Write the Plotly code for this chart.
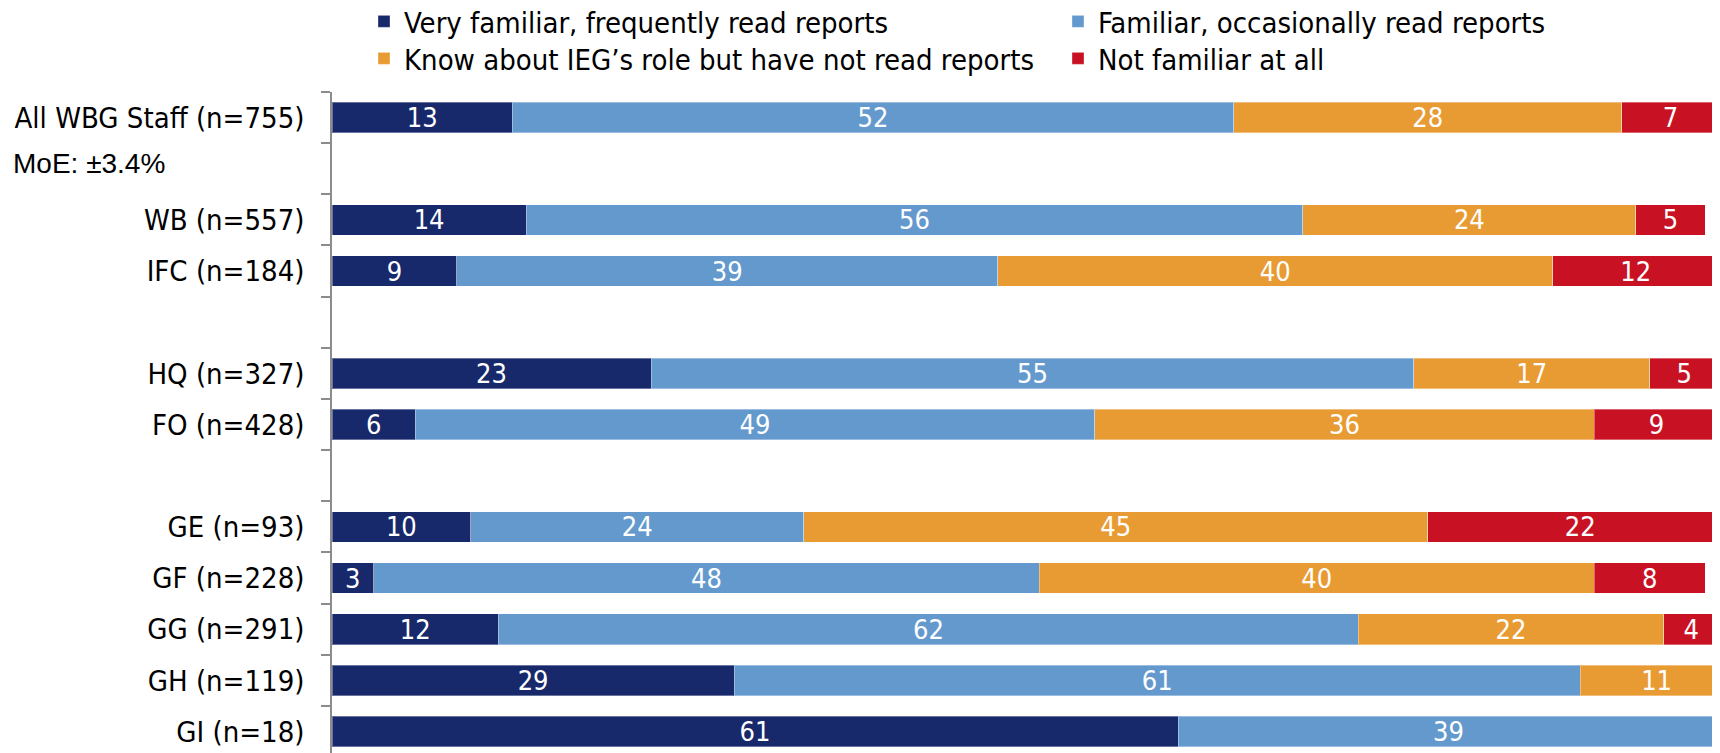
import plotly.graph_objects as go

categories = ["All WBG Staff (n=755)", " ", "WB (n=557)", "IFC (n=184)", "  ",
              "HQ (n=327)", "FO (n=428)", "   ", "GE (n=93)", "GF (n=228)",
              "GG (n=291)", "GH (n=119)", "GI (n=18)"]

series_names = ["Very familiar, frequently read reports",
                "Familiar, occasionally read reports",
                "Know about IEG\u2019s role but have not read reports",
                "Not familiar at all"]

very_familiar = [13, None, 14, 9, None, 23, 6, None, 10, 3, 12, 29, 61]
familiar = [52, None, 56, 39, None, 55, 49, None, 24, 48, 62, 61, 39]
know_about = [28, None, 24, 40, None, 17, 36, None, 45, 40, 22, 11, None]
not_familiar = [7, None, 5, 12, None, 5, 9, None, 22, 8, 4, None, None]

colors = ["#17296B", "#6499CE", "#E99B33", "#C81224"]
series_values = [very_familiar, familiar, know_about, not_familiar]

FONT = "DejaVu Sans Condensed, DejaVu Sans, sans-serif"

# page body adds an 8px offset; margins compensate
L, R, T, B = 324, 9, 84, 8
PW, PH = 1720 - L - R, 753 - T - B

# legend slot for each series: (legend id, left px, top px) in figure pixels
legend_ids = ["legend", "legend2", "legend3", "legend4"]
legend_left = [356, 1050, 356, 1050]
legend_top = [-12, -12, 25, 25]

fig = go.Figure()
for name, vals, col, lid in zip(series_names, series_values, colors, legend_ids):
    fig.add_trace(go.Bar(
        y=categories, x=vals, name=name, orientation="h", legend=lid,
        marker=dict(color=col, line=dict(color="rgba(255,255,255,0.35)", width=1)),
        text=[("" if v is None else str(v)) for v in vals],
        textposition="inside", insidetextanchor="middle", textangle=0,
        constraintext="none",
        textfont=dict(family=FONT, size=27, color="white"),
        hoverinfo="skip",
    ))

legends = {}
for lid, lx, ly in zip(legend_ids, legend_left, legend_top):
    legends[lid] = dict(orientation="h",
                        x=(lx - L) / PW, xanchor="left",
                        y=1 + (T - ly) / PH, yanchor="top",
                        font=dict(family=FONT, size=29, color="black"),
                        itemwidth=30, bgcolor="rgba(0,0,0,0)")

fig.update_layout(
    width=1720, height=753,
    barmode="stack", bargap=0.4,
    plot_bgcolor="white", paper_bgcolor="white",
    margin=dict(l=L, r=R, t=T, b=B, autoexpand=False),
    showlegend=True,
    xaxis=dict(range=[0, 100], visible=False, fixedrange=True, automargin=False),
    yaxis=dict(type="category", range=[12.42, -0.5], automargin=False,
               showline=True, linecolor="#8C8C8C", linewidth=1.5,
               ticks="outside", tickson="boundaries", ticklen=9,
               tickcolor="#8C8C8C", tickwidth=1.5,
               ticklabelstandoff=20,
               tickfont=dict(family=FONT, size=29, color="black"),
               showgrid=False, zeroline=False),
    annotations=[dict(text="MoE: \u00b13.4%", xref="paper", yref="paper",
                      x=(3 - L) / PW, xanchor="left",
                      y=1 - (156 - T) / PH, yanchor="middle",
                      showarrow=False,
                      font=dict(family="Liberation Sans, Arial, sans-serif", size=28, color="black"))],
    **legends,
)

fig.write_html("out.html")
